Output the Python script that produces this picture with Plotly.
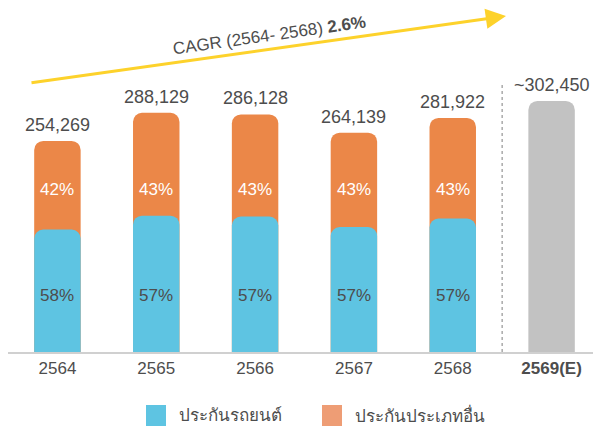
import plotly.graph_objects as go

years = ["2564", "2565", "2566", "2567", "2568", "2569(E)"]
totals = [254269, 288129, 286128, 264139, 281922, 302450]
motor_pct = [58, 57, 57, 57, 57, None]
other_pct = [42, 43, 43, 43, 43, None]
total_labels = ["254,269", "288,129", "286,128", "264,139", "281,922", "~302,450"]
tick_labels = ["2564", "2565", "2566", "2567", "2568", "<b>2569(E)</b>"]
legend_names = ["ประกันรถยนต์", "ประกันประเภทอื่น"]
cagr_text = "CAGR (2564- 2568) <b>2.6%</b>"

BLUE = "#5EC4E2"
ORANGE = "#EB8748"
ORANGE_LEG = "#EE9D75"
GREY = "#C2C2C2"
TXT = "#4D4D4D"
FONT = "Liberation Sans, Arial, Noto Sans, sans-serif"

# page has an 8px body margin; plot area in page px: x 8..601, y 83..352
OX, OY = 8, 8
PX0, PX1, PY0, PY1 = 8, 601, 83, 352
W = PX1 - PX0
H = PY1 - PY0


def px(x):
    return (x - PX0) / W


def py(y):
    return (PY1 - y) / H


xpos = list(range(len(years)))
actual_idx = [i for i, p in enumerate(motor_pct) if p is not None]
est_idx = [i for i, p in enumerate(motor_pct) if p is None]
YMAX = 324000

fig = go.Figure()
fig.add_trace(go.Bar(
    x=[xpos[i] for i in actual_idx],
    y=[totals[i] for i in actual_idx],
    marker_color=ORANGE, width=0.47, marker_line_width=0,
    showlegend=False, hoverinfo="skip"))
fig.add_trace(go.Bar(
    x=[xpos[i] for i in est_idx],
    y=[totals[i] for i in est_idx],
    marker_color=GREY, width=0.47, marker_line_width=0,
    showlegend=False, hoverinfo="skip"))
fig.add_trace(go.Bar(
    x=[xpos[i] for i in actual_idx],
    y=[totals[i] * motor_pct[i] / 100 for i in actual_idx],
    marker_color=BLUE, width=0.47, marker_line_width=0, yaxis="y2",
    showlegend=False, hoverinfo="skip"))

annotations = []
for i in xpos:
    annotations.append(dict(x=i, y=totals[i], text=total_labels[i], showarrow=False,
                            yanchor="bottom", yshift=4,
                            font=dict(family=FONT, size=18, color=TXT)))
    if other_pct[i] is not None:
        annotations.append(dict(x=i, y=196000, text=f"{other_pct[i]}%", showarrow=False,
                                font=dict(family=FONT, size=17, color="white")))
        annotations.append(dict(x=i, y=68000, text=f"{motor_pct[i]}%", showarrow=False,
                                font=dict(family=FONT, size=17, color=TXT)))

# CAGR arrow
tip_x, tip_y, tail_x, tail_y = 506, 16, 30, 83
annotations.append(dict(xref="paper", yref="paper", x=px(tip_x), y=py(tip_y), text="",
                        showarrow=True, axref="pixel", ayref="pixel",
                        ax=tail_x - tip_x, ay=tail_y - tip_y,
                        arrowhead=2, arrowsize=1.35, arrowwidth=3, arrowcolor="#FDD22B",
                        standoff=0, startstandoff=0))
annotations.append(dict(xref="paper", yref="paper", x=px(269), y=py(35), text=cagr_text,
                        showarrow=False, textangle=-8, xanchor="center", yanchor="middle",
                        font=dict(family=FONT, size=17, color=TXT)))

shapes = []
leg_items = [(legend_names[0], BLUE, 146), (legend_names[1], ORANGE_LEG, 322)]
for name, col, lx in leg_items:
    shapes.append(dict(type="rect", xref="paper", yref="paper",
                       x0=px(lx), x1=px(lx + 20), y0=py(426), y1=py(405),
                       fillcolor=col, line=dict(width=0)))
    annotations.append(dict(xref="paper", yref="paper", x=px(lx + 31), y=py(415),
                            text=name, showarrow=False, xanchor="left", yanchor="middle",
                            font=dict(family=FONT, size=17, color=TXT)))

shapes.append(dict(type="line", xref="x", yref="paper", x0=4.5, x1=4.5, y0=0, y1=1,
                   line=dict(color="#AAAAAA", width=1.5, dash="dot")))

fig.update_layout(
    width=601 - OX, height=429 - OY,
    margin=dict(l=PX0 - OX, r=601 - PX1, t=PY0 - OY, b=429 - PY1),
    paper_bgcolor="white", plot_bgcolor="white",
    barmode="overlay", barcornerradius=9,
    showlegend=False,
    xaxis=dict(range=[-0.5, 5.5], tickmode="array", tickvals=xpos, ticktext=tick_labels,
               tickfont=dict(family=FONT, size=17, color=TXT), tickangle=0,
               showline=True, linecolor="#D0D0D0", linewidth=2,
               ticks="", showgrid=False, zeroline=False),
    yaxis=dict(range=[0, YMAX], visible=False, showgrid=False, zeroline=False),
    yaxis2=dict(range=[0, YMAX], visible=False, overlaying="y", showgrid=False,
                zeroline=False),
    annotations=annotations, shapes=shapes,
)

fig.write_html("out.html")
